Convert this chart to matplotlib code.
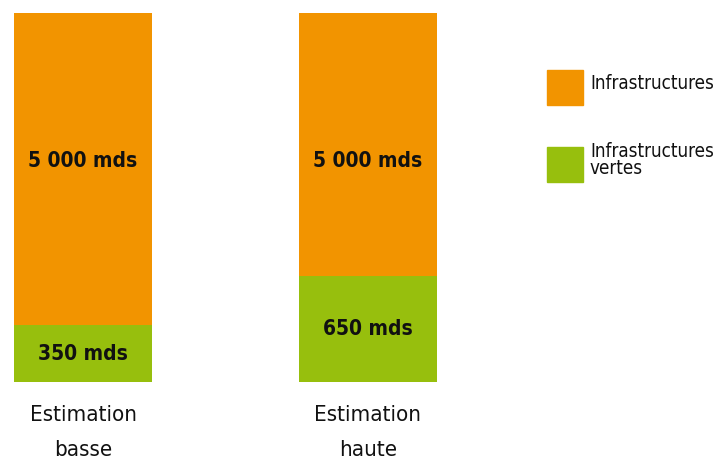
import matplotlib
matplotlib.use("Agg")
import matplotlib.pyplot as plt
from matplotlib.patches import Rectangle

# data
categories = ["Estimation\nbasse", "Estimation\nhaute"]
green_values = [350, 650]          # mds, drawn to scale
orange_labels = ["5 000 mds", "5 000 mds"]
green_labels = ["350 mds", "650 mds"]
bar_total = 2270                   # schematic full height of each bar
series_names = ["Infrastructures", "Infrastructures\nvertes"]

ORANGE = "#F29400"
GREEN = "#97BF0D"
INK = "#111111"

plt.rcParams["font.family"] = ["DejaVu Sans"]
plt.rcParams["font.stretch"] = "condensed"

W, H = 717, 466
fig = plt.figure(figsize=(W / 100, H / 100), dpi=100)
ax = fig.add_axes([14 / W, (H - 382) / H, 423 / W, 369 / H])

x = [0, 1]
width = 0.485
orange_heights = [bar_total - g for g in green_values]
ax.bar(x, green_values, width, color=GREEN, edgecolor="none")
ax.bar(x, orange_heights, width, bottom=green_values, color=ORANGE, edgecolor="none")
ax.set_xlim(-width / 2, 1 + width / 2)
ax.set_ylim(0, bar_total)
ax.axis("off")

for i in x:
    ax.text(i, bar_total * 0.6, orange_labels[i], ha="center", va="center",
            fontsize=15, fontweight="bold", color=INK)
    ax.text(i, green_values[i] / 2, green_labels[i], ha="center", va="center",
            fontsize=15, fontweight="bold", color=INK)
    ax.text(i, -bar_total * 0.063, categories[i], ha="center", va="top",
            fontsize=16, color=INK, linespacing=1.9)

# legend
box_tops = [70, 147]
text_tops = [74, 142]
for name, col, bt, tt in zip(series_names, [ORANGE, GREEN], box_tops, text_tops):
    fig.patches.append(Rectangle((547 / W, (H - bt - 35) / H), 36 / W, 35 / H,
                                 transform=fig.transFigure, color=col))
    fig.text(590 / W, (H - tt) / H, name, ha="left", va="top",
             fontsize=13.5, color=INK, linespacing=0.85)

fig.savefig("out.png", dpi=100)
